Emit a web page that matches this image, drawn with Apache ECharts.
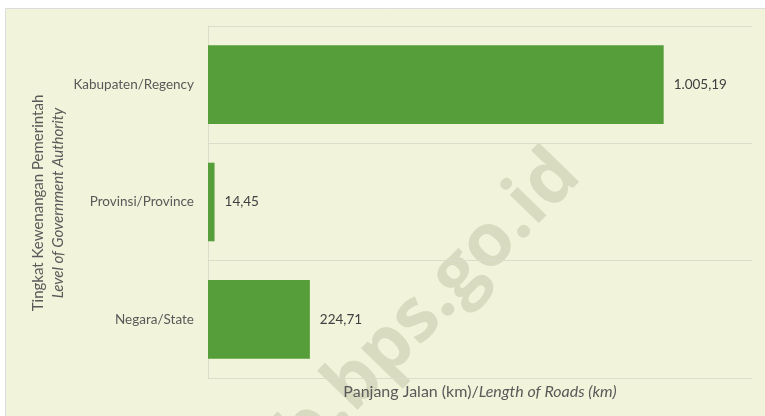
<!doctype html>
<html>
<head>
<meta charset="utf-8">
<style>
    html, body { margin: 0; padding: 0; background: #ffffff; }
    #roadChart { width: 765px; height: 416px; }
</style>
<script src="https://cdn.jsdelivr.net/npm/echarts@6/dist/echarts.min.js"></script>
</head>
<body>
<div id="roadChart"></div>
<script>
    // panjang jalan menurut tingkat kewenangan (km)
    let categories = ['Negara/State', 'Provinsi/Province', 'Kabupaten/Regency'];
    let lengths = [224.71, 14.45, 1005.19];
    let axisMax = 1200;

    let fontName = 'Lato';
    let gridColor = '#dcdccb';

    // 1005.19 -> 1.005,19
    function formatId(val) {
        let parts = val.toFixed(2).split('.');
        let intPart = parts[0].replace(/\B(?=(\d{3})+(?!\d))/g, '.');
        return intPart + ',' + parts[1];
    }

    let chart = echarts.init(document.getElementById('roadChart'));
    chart.setOption({
        backgroundColor: '#ffffff',
        animation: false,
        textStyle: { fontFamily: fontName },
        graphic: [
            {
                type: 'rect',
                z: -10,
                shape: { x: 5.5, y: 8.5, width: 770, height: 420 },
                style: { fill: '#f1f4da', stroke: '#dcdcdc', lineWidth: 1 }
            },
            {
                // watermark
                type: 'text',
                z: -5,
                x: 398,
                y: 338,
                rotation: 0.8,
                style: {
                    text: 'kab.bps.go.id',
                    fill: '#d8dbc0',
                    font: 'bold 74px "Open Sans"',
                    align: 'center',
                    verticalAlign: 'middle'
                }
            },
            {
                // judul sumbu y, dua baris
                type: 'text',
                x: 48,
                y: 203,
                rotation: Math.PI / 2,
                style: {
                    text: 'Tingkat Kewenangan Pemerintah\n{i|Level of Government Authority}',
                    fill: '#595959',
                    font: '15px Lato',
                    lineHeight: 20,
                    align: 'center',
                    verticalAlign: 'middle',
                    rich: {
                        i: { fontStyle: 'italic', fontSize: 15, fontFamily: fontName, fill: '#595959', lineHeight: 20 }
                    }
                }
            }
        ],
        grid: { left: 208, right: 13, top: 26, bottom: 38, containLabel: false },
        xAxis: {
            type: 'value',
            min: 0,
            max: axisMax,
            axisLabel: { show: false },
            axisLine: { show: false },
            axisTick: { show: false },
            splitLine: { show: false },
            name: 'Panjang Jalan (km)/{i|Length of Roads (km)}',
            nameLocation: 'middle',
            nameGap: 6,
            nameTextStyle: {
                color: '#595959',
                fontSize: 16,
                fontFamily: fontName,
                rich: {
                    i: { fontStyle: 'italic', color: '#595959', fontSize: 16, fontFamily: fontName }
                }
            }
        },
        yAxis: {
            type: 'category',
            data: categories,
            axisLine: { lineStyle: { color: gridColor } },
            axisTick: { length: 5, lineStyle: { color: gridColor } },
            splitLine: { show: true, lineStyle: { color: gridColor } },
            axisLabel: { color: '#595959', fontSize: 13.5, margin: 14 }
        },
        series: [{
            type: 'bar',
            data: lengths,
            barCategoryGap: '33%',
            itemStyle: { color: '#559e3a' },
            label: {
                show: true,
                position: 'right',
                distance: 10,
                color: '#404040',
                fontSize: 13.5,
                formatter: function (p) {
                    return formatId(p.value);
                }
            }
        }]
    });
</script>
</body>
</html>
